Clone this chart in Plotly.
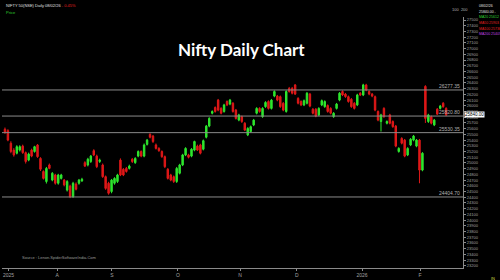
import plotly.graph_objects as go

opens = [25590,25565,25345,25225,25170,25225,25295,25180,25050,25225,25200,25315,25080,24850,24675,24965,24700,24790,24645,24730,
         24700,24525,24595,24410,24630,24645,24685,25005,24965,25025,25215,25120,25025,24965,24760,24645,24500,24645,24675,25050,
         24890,24905,24905,25065,25005,25120,25200,25120,25325,25500,25470,25315,25255,25200,25110,24890,24790,24760,24675,24820,
         24965,25140,25140,25120,25225,25295,25315,25240,25450,25645,25870,25970,26100,25955,25900,26075,26030,26045,25925,25750,
         25810,25695,25490,25550,25665,25870,25955,25810,25985,26075,25955,26170,26170,26160,26045,25900,26305,26305,26365,26130,
         26075,26015,26045,26205,25940,25940,25840,26015,25985,26005,25955,25810,25955,26100,26250,26205,26160,26115,26045,26015,
         26220,26190,26365,26250,26205,26160,25900,25725,25955,25695,25840,25725,25645,25200,25430,25400,25140,25315,25400,25295,
         25400,24875,26340,25725,25810,25665,25940,25955,26045,25955]
highs = [25620,25590,25380,25260,25310,25310,25320,25200,25180,25250,25300,25330,25100,24870,24930,24990,24840,24810,24810,24810,
         24720,24700,24620,24670,24660,24720,24740,25030,25090,25140,25240,25145,25075,24990,24780,24670,24720,24750,24810,25080,
         24910,24930,24970,25085,25100,25220,25220,25340,25420,25520,25490,25340,25275,25220,25130,24910,24810,24780,24930,24985,
         25160,25275,25160,25260,25390,25320,25335,25410,25665,25800,25920,25990,26120,25975,26035,26095,26120,26065,25945,25860,
         25830,25715,25625,25655,25770,25975,25975,25975,26080,26095,26120,26270,26190,26180,26065,26270,26330,26330,26380,26150,
         26095,26110,26240,26225,25960,25960,25975,26110,26095,26025,25975,25890,26050,26240,26270,26225,26180,26135,26065,26210,
         26240,26385,26385,26270,26225,26180,25920,25860,25975,25745,25860,25745,25665,25275,25450,25420,25275,25435,25490,25420,
         25420,25190,26360,25860,25830,25770,25960,26015,26065,25975]
lows = [25510,25380,25170,25110,25150,25200,25160,24990,25030,25100,25180,25090,24860,24710,24640,24890,24680,24620,24620,24710,
        24590,24500,24385,24390,24520,24620,24670,24930,24940,25000,25120,24910,25000,24740,24530,24445,24470,24620,24650,24770,
        24770,24830,24885,25000,24985,25100,25100,25100,25305,25430,25350,25235,25195,25090,24910,24710,24680,24650,24650,24800,
        24945,25120,25080,25100,25205,25210,25150,25220,25430,25625,25850,25880,25905,25850,25880,25995,26010,25880,25760,25730,
        25700,25560,25470,25530,25645,25850,25880,25790,25965,25935,25935,26150,26080,25965,25905,25880,26230,26200,26190,26025,
        25995,25995,26025,25975,25850,25800,25820,25995,25965,25880,25850,25790,25935,26080,26170,26140,26055,25965,25935,25995,
        26170,26170,26255,26185,26150,25905,25730,25550,25790,25675,25675,25615,25275,25180,25325,25100,25120,25295,25380,25275,
        24645,24855,25700,25700,25675,25645,25840,25935,25965,25820]
closes = [25530,25400,25200,25140,25285,25285,25180,25025,25155,25120,25285,25110,24890,24730,24905,24905,24820,24645,24790,24790,
          24615,24675,24410,24645,24540,24700,24715,24945,25065,25120,25140,24935,25050,24760,24555,24470,24700,24730,24790,24790,
          24790,24850,24945,25025,25080,25200,25120,25315,25400,25450,25375,25255,25215,25110,24935,24730,24700,24675,24905,24965,
          25140,25255,25100,25240,25375,25225,25170,25390,25645,25780,25900,25900,25925,25870,26015,26015,26100,25900,25780,25840,
          25725,25575,25605,25635,25750,25955,25900,25955,26060,25955,26100,26250,26100,25985,25925,26250,26250,26220,26205,26045,
          26015,26090,26220,25995,25870,25820,25955,26090,26075,25900,25870,25870,26030,26220,26190,26160,26075,25985,25955,26190,
          26190,26365,26275,26205,26170,25925,25750,25840,25810,25725,25695,25635,25295,25255,25345,25120,25255,25415,25470,25400,
          24875,25170,25780,25840,25695,25750,25855,25995,25985,25840]

level_values = [26277.35, 25820.80, 25530.35, 24404.70]
level_labels = ["26277.35", "25820.80", "25530.35", "24404.70"]
last_price = "25840.00"

xtick_pos = [1.2, 17.6, 36.1, 58.4, 79.4, 98.6, 120.6, 140.2]
xtick_text = ["2025", "A", "S", "O", "N", "D", "2026", "F"]

idx = list(range(len(opens)))

fig = go.Figure()
fig.add_trace(go.Candlestick(
    x=idx, open=opens, high=highs, low=lows, close=closes,
    increasing=dict(line=dict(color="#2ee62e", width=1), fillcolor="#2ee62e"),
    decreasing=dict(line=dict(color="#e01818", width=1), fillcolor="#e01818"),
    whiskerwidth=0, showlegend=False, hoverinfo="skip"))

for v, lab in zip(level_values, level_labels):
    fig.add_shape(type="line", xref="paper", x0=0, x1=1, yref="y", y0=v, y1=v,
                  line=dict(color="#8a8a8a", width=1))
    fig.add_annotation(xref="paper", x=0.997, yref="y", y=v, text=lab, showarrow=False,
                       xanchor="right", yanchor="bottom", yshift=-1,
                       font=dict(size=5, color="#b0b0b0", family="Arial"))

fig.add_annotation(xref="paper", x=1.003, yref="y", y=float(last_price), text=last_price,
                   showarrow=False, xanchor="left", yanchor="middle", bgcolor="#ffffff",
                   font=dict(size=4.5, color="#000000", family="Arial"), borderpad=0)

fig.add_annotation(xref="paper", x=0.52, yref="paper", y=0.87, text="<b>Nifty Daily Chart</b>",
                   showarrow=False, xanchor="center", yanchor="middle",
                   font=dict(size=17, color="#ffffff", family="Lato"))

fig.add_annotation(xref="paper", x=0.038, yref="paper", y=0.04,
                   text="Source : Lenon.SpiderSoftwareIndia.Com", showarrow=False,
                   xanchor="left", yanchor="middle", font=dict(size=4, color="#9a9a9a", family="Arial"))

fig.add_annotation(xref="paper", x=0.005, yref="paper", y=1.062,
                   text="NIFTY 50(NSE) Daily 08/02/26 <span style='color:#e02020'>- 0.45%</span>",
                   showarrow=False, xanchor="left", yanchor="top",
                   font=dict(size=4, color="#e0e0e0", family="Arial"))
fig.add_annotation(xref="paper", x=0.005, yref="paper", y=1.037, text="Price",
                   showarrow=False, xanchor="left", yanchor="top",
                   font=dict(size=4, color="#30d030", family="Arial"))

legend_lines = [("08/02/26", "#e0e0e0"), ("25840.00 -", "#e0e0e0"),
                ("MA20 25612", "#30d030"), ("MA50 25903", "#e02020"),
                ("MA100 25736", "#e02020"), ("MA200 25407", "#c040e0")]
for k, (t, c) in enumerate(legend_lines):
    fig.add_annotation(xref="paper", x=1.031, yref="paper", y=1.058 - k * 0.022, text=t,
                       showarrow=False, xanchor="left", yanchor="top",
                       font=dict(size=3.5, color=c, family="Arial"))
fig.add_annotation(xref="paper", x=1.015, yref="paper", y=1.03, text="100  200",
                   showarrow=False, xanchor="right", yanchor="middle",
                   font=dict(size=4, color="#b0b0b0", family="Arial"))
fig.add_annotation(xref="paper", x=1.065, yref="paper", y=-0.022, text="IN",
                   showarrow=False, xanchor="center", yanchor="top",
                   font=dict(size=4, color="#d0d040", family="Arial"))

fig.update_layout(
    width=500, height=280,
    margin=dict(l=2, r=37, t=17, b=12),
    paper_bgcolor="#000000", plot_bgcolor="#000000",
    xaxis=dict(range=[-1.0, 154.7], rangeslider=dict(visible=False), showgrid=False,
               zeroline=False, tickmode="array", tickvals=xtick_pos, ticktext=xtick_text,
               tickfont=dict(size=5, color="#a0a0a0", family="Arial"),
               ticklabeloverflow="allow",
               showline=True, linecolor="#8a8a8a", linewidth=1,
               ticks="outside", ticklen=2, tickcolor="#8a8a8a"),
    yaxis=dict(range=[23162, 27554], side="right", showgrid=False, zeroline=False,
               dtick=100, tick0=0, tickformat="d",
               tickfont=dict(size=4, color="#a0a0a0", family="Arial"),
               showline=True, linecolor="#8a8a8a", linewidth=1,
               ticks="outside", ticklen=2, tickcolor="#8a8a8a"),
)

fig.write_html("out.html")
